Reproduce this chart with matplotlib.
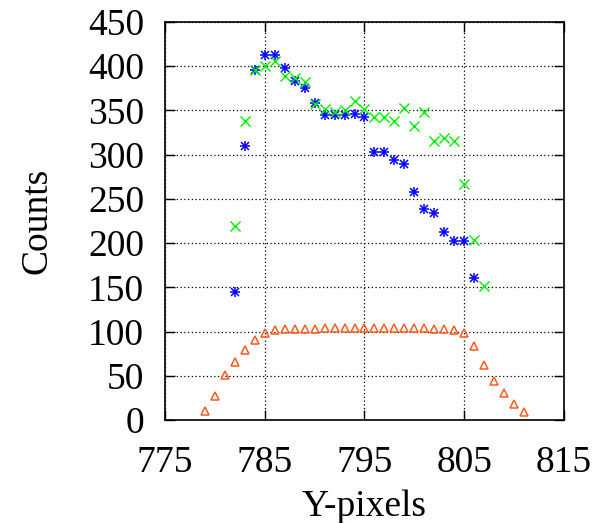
import matplotlib
matplotlib.use('Agg')
import matplotlib.pyplot as plt

# blue asterisks
x_blue = list(range(782, 807))
y_blue = [145, 310, 396, 413, 413, 398, 383, 375, 358, 345, 345, 345, 346, 343,
          303, 303, 294, 289, 258, 238, 234, 212, 202, 202, 161]

# green crosses
x_green = list(range(782, 808))
y_green = [219, 338, 396, 400, 406, 389, 387, 382, 357, 352, 348, 351, 361, 352,
           343, 343, 338, 353, 332, 348, 315, 319, 315, 267, 203, 151]

# orange triangles
x_orange = list(range(779, 812))
y_orange = [10, 27, 51, 66, 79, 90, 98,
            102, 103, 103, 103, 103, 104, 104, 104, 104, 104, 104, 104, 104,
            104, 104, 104, 103, 103,
            102, 98, 84, 62, 44, 31, 18, 9]

plt.rcParams['font.family'] = ['Liberation Serif', 'DejaVu Serif']

fig = plt.figure(figsize=(5.98, 5.23), dpi=100)
ax = fig.add_axes([0.2759, 0.1969, 0.9431 - 0.2759, 0.958 - 0.1969])

ax.plot(x_blue, y_blue, ls='none', marker='+', ms=7, mew=1.1, color='#0000ff')
ax.plot(x_blue, y_blue, ls='none', marker='x', ms=6, mew=1.1, color='#0000ff')
ax.plot(x_green, y_green, ls='none', marker='x', ms=7, mew=1.0, color='#00ee00')
ax.plot(x_orange, y_orange, ls='none',
        marker='^', ms=6, mew=1.1, mfc='none', color='#ff5a1e')

ax.set_xlim(775, 815)
ax.set_ylim(0, 450)
ax.set_xticks([775, 785, 795, 805, 815])
ax.set_yticks(range(0, 451, 50))
ax.grid(True, ls=(0, (1, 2)), color='black', lw=0.9)
ax.tick_params(direction='in', top=True, right=True, length=7, width=1,
               labelsize=27)
ax.tick_params(axis='x', pad=18)
ax.tick_params(axis='y', pad=15)
for s in ax.spines.values():
    s.set_linewidth(1.2)

ax.set_xlabel('Y-pixels', fontsize=27, labelpad=7)
ax.set_ylabel('Counts', fontsize=27, labelpad=24)

fig.savefig('out.png', dpi=100)
